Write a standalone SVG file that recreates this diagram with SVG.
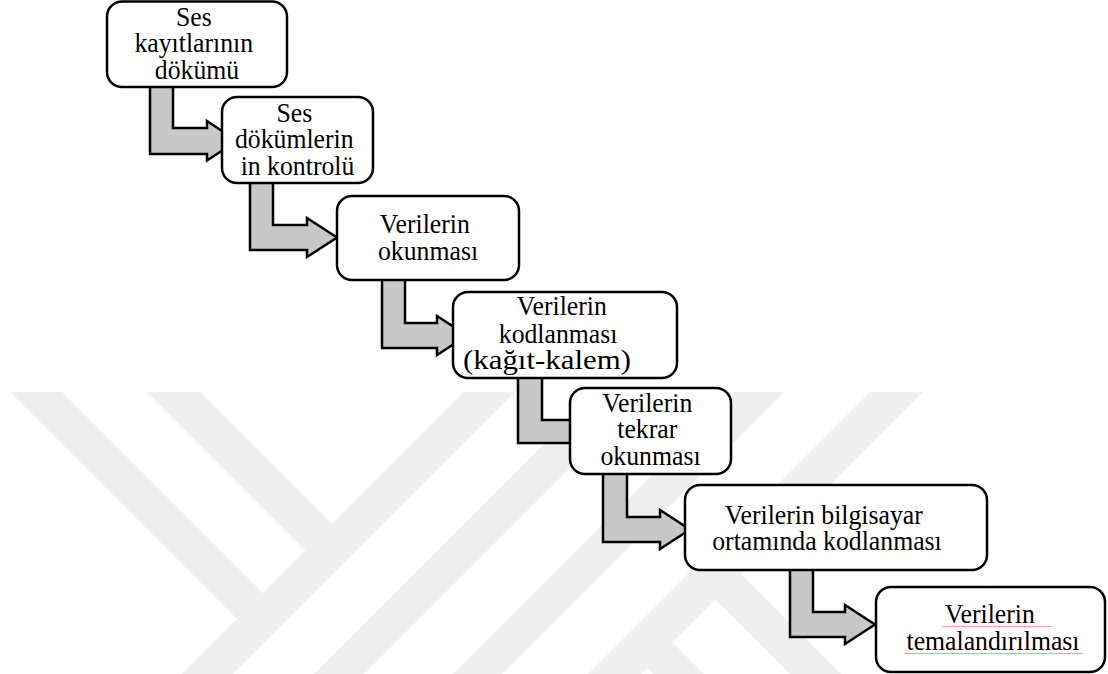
<svg xmlns="http://www.w3.org/2000/svg" width="1108" height="674" viewBox="0 0 1108 674">
  <style>
    .wm { fill: #efefef; stroke: none; }
    .box { fill: #ffffff; stroke: #000000; stroke-width: 2.5; }
    .arrow { fill: #c8c8c8; stroke: #000000; stroke-width: 2.5; stroke-linejoin: miter; }
    .label { font-family: "Liberation Serif", "Times New Roman", serif; font-size: 28px; fill: #000000; text-anchor: middle; }
    .squiggle { stroke: #f2a0a0; stroke-width: 1; fill: none; }
  </style>

  <rect width="1108" height="674" fill="#ffffff"/>

  <!-- faint background emblem: diagonal stripes -->
  <g id="watermark">
    <polygon class="wm" points="10,392 62,392 263,593 237,619"/>
    <polygon class="wm" points="147,392 200,392 332,524 305.5,550.5"/>
    <polygon class="wm" points="182,674 464,392 515,392 233,674"/>
    <polygon class="wm" points="314,674 596,392 646,392 364,674"/>
    <polygon class="wm" points="453,674 735,392 784,392 502,674"/>
    <polygon class="wm" points="588,674 870,392 923,392 641,674"/>
    <polygon class="wm" points="672.5,642.5 704,674 653,674 647,668"/>
    <polygon class="wm" points="741,574 841,674 790,674 715.5,599.5"/>
  </g>

  <!-- bent block arrows between consecutive steps -->
  <g id="connectors">
    <polygon class="arrow" points="150,80 173,80 173,128 207,128 207,121 237,141 207,160.5 207,154 150,154"/>
    <polygon class="arrow" points="250,176 273,176 273,225 307,225 307,218 337,237.5 307,257 307,250 250,250"/>
    <polygon class="arrow" points="382,273 405,273 405,323 437,323 437,316 467,335.5 437,355 437,348 382,348"/>
    <polygon class="arrow" points="518,371 542,371 542,420 575,420 575,412 605,431.5 575,451 575,443 518,443"/>
    <polygon class="arrow" points="603,467 627,467 627,517 660,517 660,510 690,529.5 660,549 660,542 603,542"/>
    <polygon class="arrow" points="790,563 813,563 813,612 845,612 845,605 875,624.5 845,644 845,637 790,637"/>
  </g>

  <g id="step1">
    <rect class="box" x="107" y="1.5" width="180" height="85.5" rx="15"/>
    <text class="label" transform="translate(197,0) scale(0.92,1)">
      <tspan x="0" y="26">Ses</tspan>
      <tspan x="0" y="52.5">kayıtlarının</tspan>
      <tspan x="0" y="79">dökümü</tspan>
    </text>
  </g>

  <g id="step2">
    <rect class="box" x="222" y="97" width="151" height="86" rx="15"/>
    <text class="label" transform="translate(297.5,0) scale(0.92,1)">
      <tspan x="0" y="121.7">Ses</tspan>
      <tspan x="0" y="148.3">dökümlerin</tspan>
      <tspan x="0" y="175">in kontrolü</tspan>
    </text>
  </g>

  <g id="step3">
    <rect class="box" x="337" y="196" width="182" height="84" rx="15"/>
    <text class="label" transform="translate(428,0) scale(0.92,1)">
      <tspan x="0" y="233.3">Verilerin</tspan>
      <tspan x="0" y="260">okunması</tspan>
    </text>
  </g>

  <g id="step4">
    <rect class="box" x="453" y="292" width="224" height="86" rx="15"/>
    <text class="label" transform="translate(565,0) scale(0.92,1)">
      <tspan x="0" y="315">Verilerin</tspan>
      <tspan x="-4" y="342.7">kodlanması</tspan>
      <tspan x="-19.6" y="369.3" textLength="182.6" lengthAdjust="spacingAndGlyphs">(kağıt-kalem)</tspan>
    </text>
  </g>

  <g id="step5">
    <rect class="box" x="570" y="388" width="161" height="86" rx="15"/>
    <text class="label" transform="translate(650.5,0) scale(0.92,1)">
      <tspan x="0" y="411.7">Verilerin</tspan>
      <tspan x="0" y="438.3">tekrar</tspan>
      <tspan x="0" y="465">okunması</tspan>
    </text>
  </g>

  <g id="step6">
    <rect class="box" x="685" y="485" width="302" height="85" rx="15"/>
    <text class="label" transform="translate(827,0) scale(0.92,1)">
      <tspan x="0" y="524">Verilerin bilgisayar</tspan>
      <tspan x="0" y="550.5">ortamında kodlanması</tspan>
    </text>
  </g>

  <g id="step7">
    <rect class="box" x="876" y="587" width="229" height="85" rx="15"/>
    <text class="label" transform="translate(993,0) scale(0.92,1)">
      <tspan x="0" y="623">Verilerin</tspan>
      <tspan x="0" y="650">temalandırılması</tspan>
    </text>
    <line class="squiggle" x1="942" y1="626.5" x2="1052" y2="626.5"/>
    <line class="squiggle" x1="904" y1="653.5" x2="1083" y2="653.5"/>
  </g>
</svg>
